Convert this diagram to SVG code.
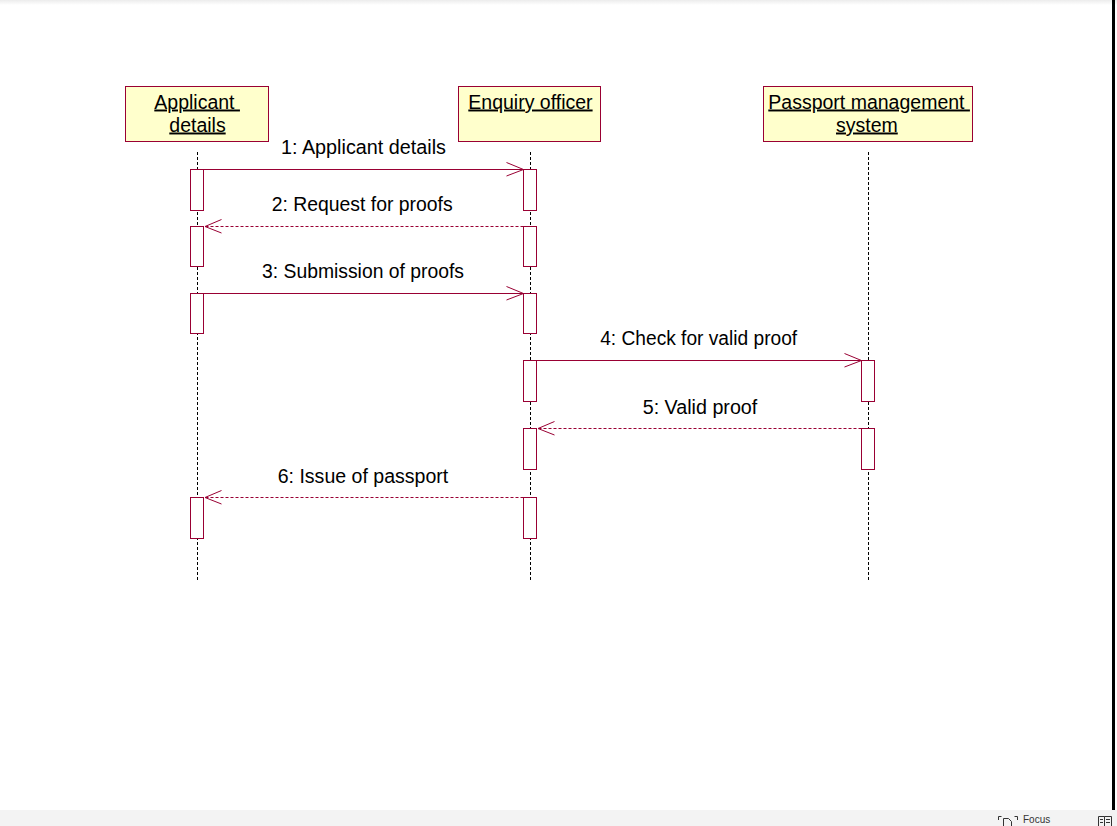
<svg xmlns="http://www.w3.org/2000/svg" width="1117" height="826" viewBox="0 0 1117 826">
  <defs>
    <linearGradient id="topfade" x1="0" y1="0" x2="0" y2="1">
      <stop offset="0" stop-color="#ececec"/>
      <stop offset="1" stop-color="#ffffff"/>
    </linearGradient>
    <style>
      .obj { fill: #FFFFCC; stroke: #990033; stroke-width: 1; }
      .objtxt { font-family: "Liberation Sans", Arial, sans-serif; font-size: 19.5px; fill: #000; text-decoration: underline; }
      .life { stroke: #000; stroke-width: 1; stroke-dasharray: 3 2; fill: none; }
      .act { fill: #fff; stroke: #990033; stroke-width: 1; }
      .msg { stroke: #990033; stroke-width: 1; fill: none; }
      .ret { stroke: #990033; stroke-width: 1; stroke-dasharray: 3 2; fill: none; }
      .head { stroke: #990033; stroke-width: 1; fill: none; }
      .lbl { font-family: "Liberation Sans", Arial, sans-serif; font-size: 19.5px; fill: #000; text-anchor: middle; }
      .ui { font-family: "Segoe UI", "Liberation Sans", Arial, sans-serif; font-size: 10px; fill: #333; }
    </style>
  </defs>

  <!-- window chrome -->
  <rect x="0" y="0" width="1117" height="826" fill="#ffffff"/>
  <rect x="0" y="0" width="1117" height="5" fill="url(#topfade)"/>
  <rect x="1112" y="0" width="3" height="810" fill="#000"/>
  <rect x="0" y="810" width="1117" height="16" fill="#f3f3f3"/>
  <g id="statusbar" fill="none" stroke="#333" stroke-width="1">
    <path d="M998.5,820 v-3.5 h3 M1014.5,816.5 h3 v3.5"/>
    <path d="M1003.5,826 v-7.5 h5 l3,3 v5"/>
    <path d="M1098.5,826 v-9.5 h6 v9.5 M1104.5,816.5 h7 v9.5 M1100,819.5 h3 M1106,819.5 h4 M1100,822.5 h3 M1106,822.5 h4"/>
  </g>
  <text class="ui" x="1023" y="823">Focus</text>

  <!-- lifelines -->
  <g id="lifelines">
    <line class="life" x1="197.5" y1="152" x2="197.5" y2="580"/>
    <line class="life" x1="530.5" y1="152" x2="530.5" y2="580"/>
    <line class="life" x1="868.5" y1="152" x2="868.5" y2="580"/>
  </g>

  <!-- objects -->
  <g id="applicant">
    <rect class="obj" x="125.5" y="86.5" width="143" height="55"/>
    <text class="objtxt" x="154.3" y="108.5" xml:space="preserve" style="white-space:pre">Applicant </text>
    <text class="objtxt" x="169.3" y="131.5">details</text>
    <rect class="act" x="190.5" y="169.5" width="13" height="41"/>
    <rect class="act" x="190.5" y="226.5" width="13" height="40"/>
    <rect class="act" x="190.5" y="293.5" width="13" height="40"/>
    <rect class="act" x="190.5" y="497.5" width="13" height="41"/>
  </g>

  <g id="enquiry">
    <rect class="obj" x="458.5" y="86.5" width="142" height="55"/>
    <text class="objtxt" x="468.3" y="108.5">Enquiry officer</text>
    <rect class="act" x="523.5" y="169.5" width="13" height="41"/>
    <rect class="act" x="523.5" y="226.5" width="13" height="40"/>
    <rect class="act" x="523.5" y="293.5" width="13" height="40"/>
    <rect class="act" x="523.5" y="360.5" width="13" height="41"/>
    <rect class="act" x="523.5" y="428.5" width="13" height="41"/>
    <rect class="act" x="523.5" y="497.5" width="13" height="41"/>
  </g>

  <g id="passport">
    <rect class="obj" x="763.5" y="86.5" width="209" height="55"/>
    <text class="objtxt" x="768.3" y="108.5" xml:space="preserve" style="white-space:pre">Passport management </text>
    <text class="objtxt" x="836" y="131.5">system</text>
    <rect class="act" x="861.5" y="360.5" width="13" height="41"/>
    <rect class="act" x="861.5" y="428.5" width="13" height="41"/>
  </g>

  <!-- messages -->
  <g id="connectors">
    <g id="m1">
      <line class="msg" x1="203.5" y1="169.5" x2="523.5" y2="169.5"/>
      <polyline class="head" points="506.5,162.5 523.5,169.5 506.5,176"/>
      <text class="lbl" x="363.5" y="154" textLength="165" lengthAdjust="spacingAndGlyphs">1: Applicant details</text>
    </g>
    <g id="m2">
      <line class="ret" x1="523.5" y1="226.5" x2="205" y2="226.5"/>
      <polyline class="head" points="221.5,219.5 205,226.5 221.5,233"/>
      <text class="lbl" x="362.2" y="211" textLength="181" lengthAdjust="spacingAndGlyphs">2: Request for proofs</text>
    </g>
    <g id="m3">
      <line class="msg" x1="203.5" y1="293.5" x2="523.5" y2="293.5"/>
      <polyline class="head" points="506.5,286.5 523.5,293.5 506.5,300"/>
      <text class="lbl" x="363" y="278" textLength="202" lengthAdjust="spacingAndGlyphs">3: Submission of proofs</text>
    </g>
    <g id="m4">
      <line class="msg" x1="536.5" y1="360.5" x2="861.5" y2="360.5"/>
      <polyline class="head" points="844.5,353.5 861.5,360.5 844.5,367"/>
      <text class="lbl" x="698.7" y="345" textLength="197" lengthAdjust="spacingAndGlyphs">4: Check for valid proof</text>
    </g>
    <g id="m5">
      <line class="ret" x1="861.5" y1="428.5" x2="538" y2="428.5"/>
      <polyline class="head" points="554.5,421.5 538,428.5 554.5,435"/>
      <text class="lbl" x="700" y="414" textLength="114.6" lengthAdjust="spacingAndGlyphs">5: Valid proof</text>
    </g>
    <g id="m6">
      <line class="ret" x1="523.5" y1="497.5" x2="205" y2="497.5"/>
      <polyline class="head" points="221.5,490.5 205,497.5 221.5,504"/>
      <text class="lbl" x="363" y="483" textLength="170.6" lengthAdjust="spacingAndGlyphs">6: Issue of passport</text>
    </g>
  </g>
</svg>
